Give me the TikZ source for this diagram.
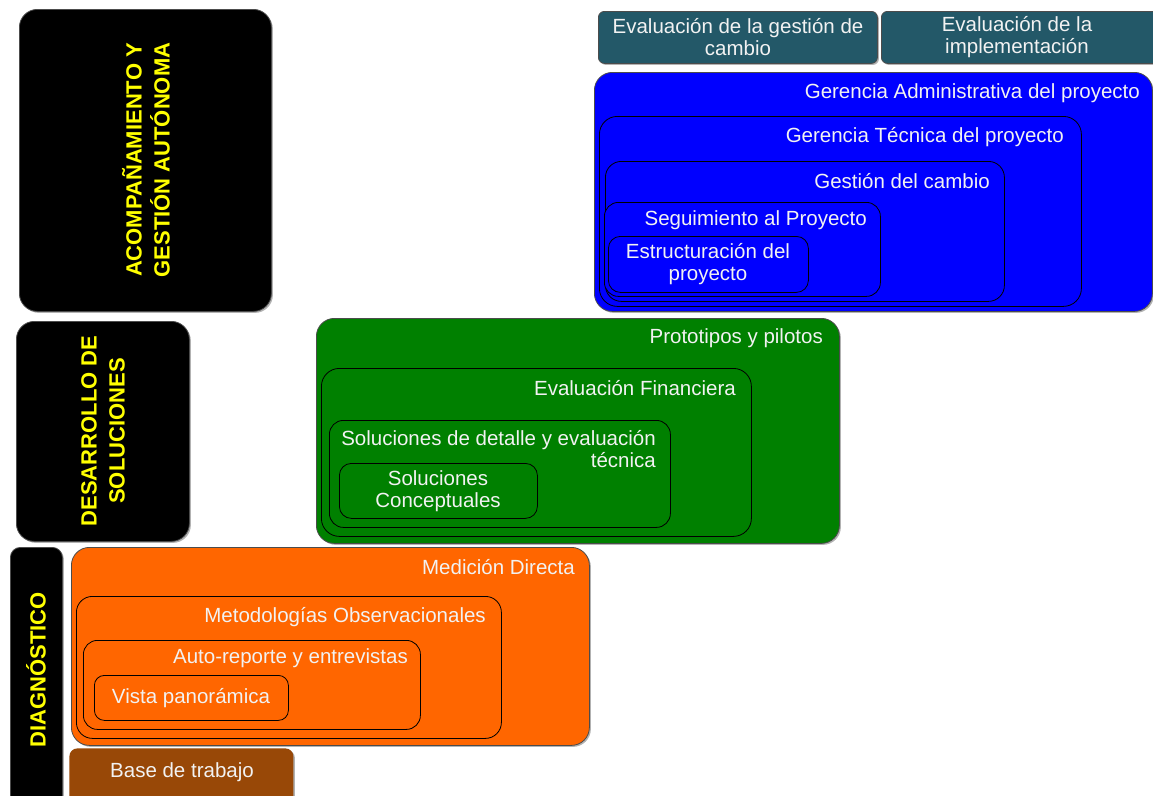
\documentclass[tikz,border=0pt]{standalone}
\usepackage{fontspec}
\setmainfont{Liberation Sans}
\usetikzlibrary{shadows}
\definecolor{tealbox}{RGB}{35,88,104}
\definecolor{bluebox}{RGB}{0,0,255}
\definecolor{greenbox}{RGB}{0,128,0}
\definecolor{orangebox}{RGB}{255,102,0}
\definecolor{brownbox}{RGB}{152,72,7}
\definecolor{lbltext}{RGB}{242,242,242}
\definecolor{yel}{RGB}{255,255,0}
\begin{document}
\begin{tikzpicture}[x=1pt,y=-1pt,
  box/.style={draw=black, line width=0.8pt, rounded corners=14pt, anchor=north west, inner sep=0pt},
  outer/.style={box, draw=black!70, rounded corners=18pt, drop shadow={shadow xshift=1.5pt, shadow yshift=-1.5pt, opacity=0.3, fill=black}},
  lbl/.style={text=lbltext, font=\fontsize{20.5}{22}\selectfont, inner sep=0pt},
  vlbl/.style={text=yel, font=\bfseries\fontsize{22}{28}\selectfont, rotate=90, align=center, inner sep=0pt}]
\useasboundingbox (0,0) rectangle (1153,795);
\clip (0,0) rectangle (1153,795);
\fill[white] (0,0) rectangle (1153,795);

% black category boxes
\node[outer, fill=black, minimum width=252pt, minimum height=302pt] (acomp) at (19,9) {};
\node[vlbl] (acompT) at (146,160) {ACOMPAÑAMIENTO Y\\GESTIÓN AUTÓNOMA};
\node[outer, fill=black, minimum width=173pt, minimum height=220pt] (desa) at (16,321) {};
\node[vlbl] (desaT) at (103,431) {DESARROLLO DE\\SOLUCIONES};
\node[outer, fill=black, rounded corners=10pt, minimum width=52pt, minimum height=270pt] (diag) at (10,547) {};
\node[vlbl] (diagT) at (36,670) {DIAGNÓSTICO};

% teal boxes
\node[outer, fill=tealbox, rounded corners=6pt, minimum width=279pt, minimum height=52pt] (evg) at (598,11) {};
\node[lbl, align=center] (evgT) at (738,37) {Evaluación de la gestión de\\cambio};
\node[outer, fill=tealbox, rounded corners=6pt, minimum width=290pt, minimum height=52pt] (evi) at (881,11) {};
\node[lbl, align=center] (eviT) at (1017,37) {Evaluación de la\\implementación};

% blue nested
\node[outer, fill=bluebox, minimum width=558pt, minimum height=239pt] (b1) at (594,72) {};
\node[lbl, anchor=east] (b1T) at (1140,93) {Gerencia Administrativa del proyecto};
\node[box, fill=bluebox, rounded corners=18pt, minimum width=482pt, minimum height=190pt] (b2) at (599,116) {};
\node[lbl, anchor=east] (b2T) at (1064,137) {Gerencia Técnica del proyecto};
\node[box, fill=bluebox, rounded corners=16pt, minimum width=399pt, minimum height=140pt] (b3) at (605,161) {};
\node[lbl, anchor=east] (b3T) at (990,181) {Gestión del cambio};
\node[box, fill=bluebox, rounded corners=14pt, minimum width=276pt, minimum height=94pt] (b4) at (604,202) {};
\node[lbl, anchor=east] (b4T) at (867,220) {Seguimiento al Proyecto};
\node[box, fill=bluebox, rounded corners=12pt, minimum width=200pt, minimum height=56pt] (b5) at (608,236) {};
\node[lbl, align=center] (b5T) at (708,264) {Estructuración del\\proyecto};

% green nested
\node[outer, fill=greenbox, minimum width=523pt, minimum height=225pt] (g1) at (316,318) {};
\node[lbl, anchor=east] (g1T) at (823,338) {Prototipos y pilotos};
\node[box, fill=greenbox, rounded corners=18pt, minimum width=430pt, minimum height=168pt] (g2) at (321,368) {};
\node[lbl, anchor=east] (g2T) at (736,388) {Evaluación Financiera};
\node[box, fill=greenbox, rounded corners=14pt, minimum width=341pt, minimum height=107pt] (g3) at (329,420) {};
\node[lbl, anchor=east, align=right] (g3T) at (656,449) {Soluciones de detalle y evaluación\\técnica};
\node[box, fill=greenbox, rounded corners=12pt, minimum width=198pt, minimum height=55pt] (g4) at (339,463) {};
\node[lbl, align=center] (g4T) at (438,491) {Soluciones\\Conceptuales};

% orange nested
\node[outer, fill=orangebox, minimum width=518pt, minimum height=198pt] (o1) at (71,547) {};
\node[lbl, anchor=east] (o1T) at (575,567) {Medición Directa};
\node[box, fill=orangebox, rounded corners=16pt, minimum width=425pt, minimum height=142pt] (o2) at (76,596) {};
\node[lbl, anchor=east] (o2T) at (486,617) {Metodologías Observacionales};
\node[box, fill=orangebox, rounded corners=14pt, minimum width=337pt, minimum height=89pt] (o3) at (83,640) {};
\node[lbl, anchor=east] (o3T) at (408,658) {Auto-reporte y entrevistas};
\node[box, fill=orangebox, rounded corners=10pt, minimum width=194pt, minimum height=45pt] (o4) at (94,675) {};
\node[lbl] (o4T) at (191,698) {Vista panorámica};

% base
\node[outer, draw=none, fill=brownbox, rounded corners=8pt, minimum width=224pt, minimum height=60pt] (base) at (69,748) {};
\node[lbl] (baseT) at (182,772) {Base de trabajo};
\end{tikzpicture}
\end{document}
